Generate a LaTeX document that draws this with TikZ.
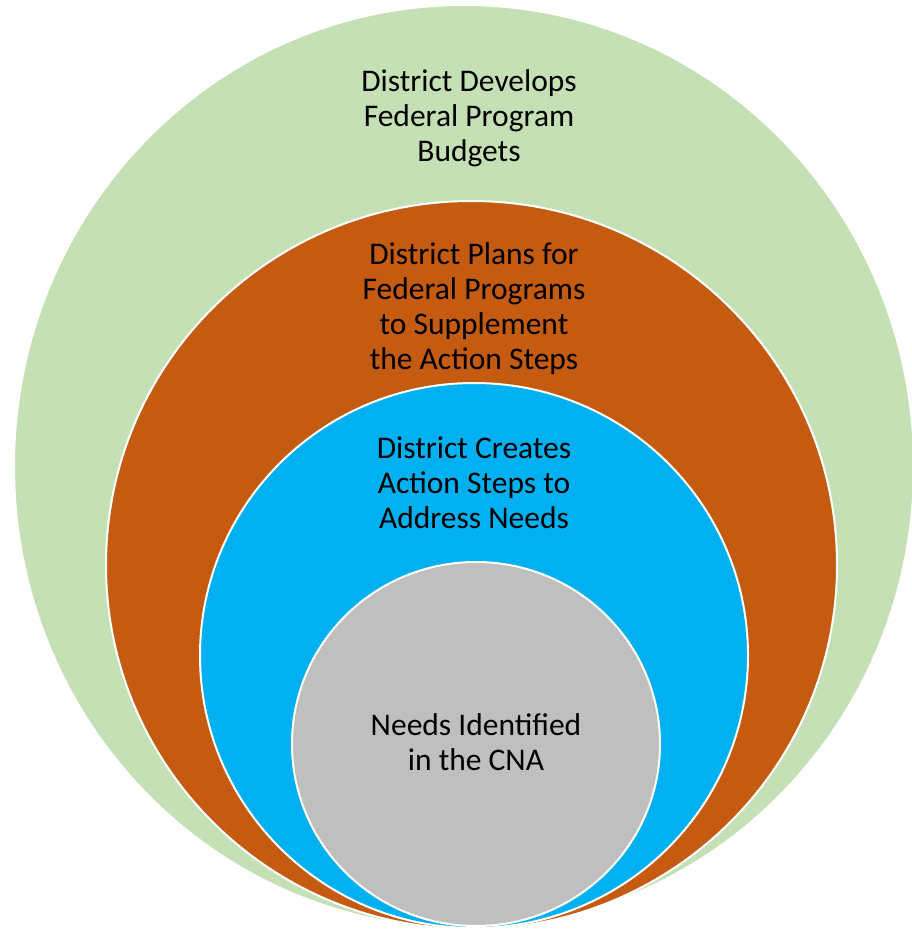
\documentclass[tikz,border=0pt]{standalone}
\usepackage{fontspec}
\setmainfont{Carlito}
\definecolor{cgreen}{HTML}{C5E0B4}
\definecolor{corange}{HTML}{C55A11}
\definecolor{cblue}{HTML}{00B0F0}
\definecolor{cgray}{HTML}{BFBFBF}
\begin{document}
\begin{tikzpicture}[x=1pt,y=-1pt,
  ring/.style={draw=white,line width=2pt},
  lbl/.style={align=center,inner sep=0pt,text=black,font=\fontsize{31.5}{35}\selectfont}]
\useasboundingbox (0,0) rectangle (912,929);
\begin{scope}
\clip (0,0) rectangle (912,929);
\path[ring,fill=cgreen] (464,466.5) ellipse [x radius=450,y radius=461.5];
\path[ring,fill=corange] (471.5,565) ellipse [x radius=365.5,y radius=364];
\path[ring,fill=cblue] (474,655.5) ellipse [x radius=274,y radius=272.5];
\path[ring,fill=cgray] (476,744) ellipse [x radius=184,y radius=182];
\end{scope}
\node[lbl] (budgets) at (469,118) {District Develops\\Federal Program\\Budgets};
\node[lbl] (plans) at (474,309) {District Plans for\\Federal Programs\\to Supplement\\the Action Steps};
\node[lbl] (steps) at (474,483) {District Creates\\Action Steps to\\Address Needs};
\node[lbl] (needs) at (476,742) {Needs Identified\\in the CNA};
\end{tikzpicture}
\end{document}
